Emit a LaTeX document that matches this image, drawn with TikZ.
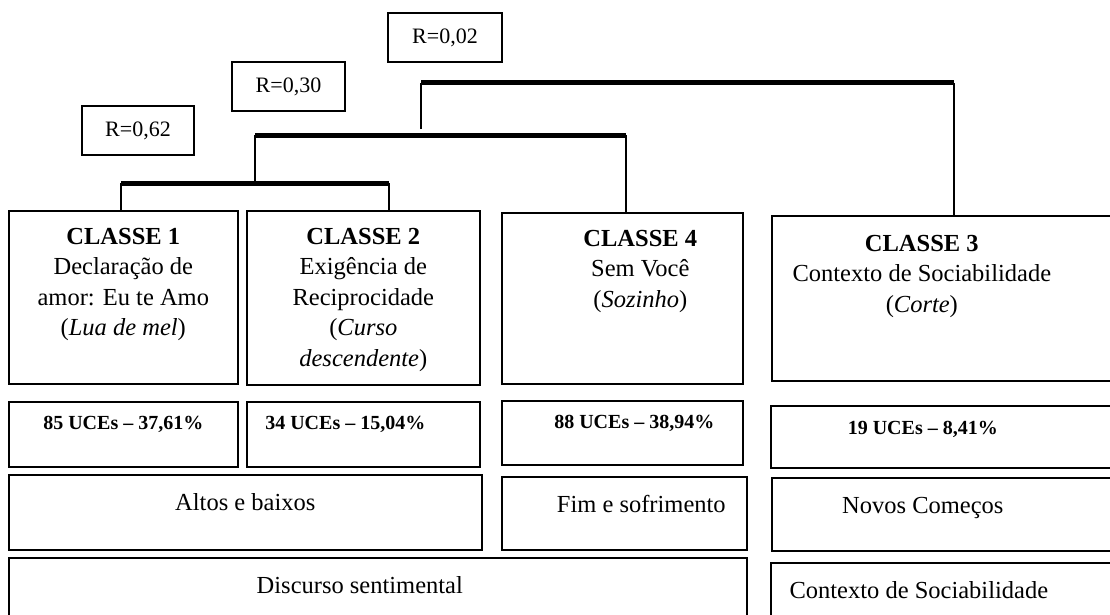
\documentclass[tikz,border=0pt]{standalone}
\usepackage{fontspec}
\setmainfont{Liberation Serif}
\usepackage{tikz}
\usetikzlibrary{positioning}

\tikzset{
    cell/.style={draw, line width=1.6pt, anchor=north west, inner sep=0pt},
    rbox/.style={draw, line width=1.4pt, inner sep=0pt, minimum height=49pt, font=\fontsize{22}{26}\selectfont},
    txt/.style={anchor=north, align=center, inner sep=0pt, font=\fontsize{24.5}{30.5}\selectfont},
    uce/.style={anchor=north, inner sep=0pt, font=\bfseries\fontsize{20}{24}\selectfont},
    bar/.style={line width=5pt},
    stem/.style={line width=1.6pt}
}

\begin{document}
\begin{tikzpicture}[x=1pt, y=-1pt]

    \useasboundingbox (0, 0) rectangle (1110, 615);

    \node[rbox, minimum width=114pt] (r3) at (445, 37.5) {R=0,02};
    \node[rbox, minimum width=113pt] (r2) at (288.5, 86.5) {R=0,30};
    \node[rbox, minimum width=112pt] (r1) at (138, 130.5) {R=0,62};

    \node[cell, minimum width=229pt, minimum height=173pt, label={[txt, yshift=-18pt]north:{\textbf{CLASSE 1}\\Declaração de\\amor: Eu te Amo\\(\textit{Lua de mel})}}] (c1) at (8, 210) {};
    \node[cell, minimum width=233pt, minimum height=174pt, label={[txt, yshift=-18pt]north:{\textbf{CLASSE 2}\\Exigência de\\Reciprocidade\\(\textit{Curso}\\\textit{descendente})}}] (c2) at (246, 210) {};
    \node[cell, minimum width=241pt, minimum height=171pt, label={[txt, xshift=18pt, yshift=-18pt]north:{\textbf{CLASSE 4}\\Sem Você\\(\textit{Sozinho})}}] (c4) at (501, 212) {};
    \node[cell, minimum width=360pt, minimum height=165pt, label={[txt, xshift=-30pt, yshift=-20pt]north:{\textbf{CLASSE 3}\\Contexto de Sociabilidade\\(\textit{Corte})}}] (c3) at (771, 215) {};

    \node[cell, minimum width=229pt, minimum height=65pt, label={[uce, yshift=-15pt]north:85 UCEs \textendash{} 37,61\%}] (u1) at (8, 401) {};
    \node[cell, minimum width=233pt, minimum height=65pt, label={[uce, xshift=-18pt, yshift=-15pt]north:34 UCEs \textendash{} 15,04\%}] (u2) at (246, 401) {};
    \node[cell, minimum width=241pt, minimum height=64pt, label={[uce, xshift=12pt, yshift=-15pt]north:88 UCEs \textendash{} 38,94\%}] (u4) at (501, 400) {};
    \node[cell, minimum width=360pt, minimum height=62pt, label={[uce, xshift=-28pt, yshift=-16pt]north:19 UCEs \textendash{} 8,41\%}] (u3) at (770, 405) {};

    \node[cell, minimum width=473pt, minimum height=75pt, label={[txt, yshift=-19pt]north:Altos e baixos}] (alt) at (8, 474) {};
    \node[cell, minimum width=245pt, minimum height=73pt, label={[txt, xshift=17pt, yshift=-19pt]north:Fim e sofrimento}] (fim) at (501, 476) {};
    \node[cell, minimum width=360pt, minimum height=73pt, label={[txt, xshift=-29pt, yshift=-20pt]north:Novos Começos}] (nov) at (771, 477) {};

    \node[cell, minimum width=738pt, minimum height=80pt, label={[txt, xshift=-18pt, yshift=-19pt]north:Discurso sentimental}] (dis) at (8, 557) {};
    \node[cell, minimum width=360pt, minimum height=80pt, label={[txt, xshift=-32pt, yshift=-19pt]north:Contexto de Sociabilidade}] (ctx) at (770, 562) {};

    \coordinate (j1l) at (121, 183);
    \coordinate (j1r) at (389, 183);
    \coordinate (j2l) at (255, 135);
    \coordinate (j2r) at (626, 135);
    \coordinate (j3l) at (421, 83);
    \coordinate (j3r) at (954, 83);
    \coordinate (j3s) at (421, 129);

    \draw [bar] (j1l) -- (j1r);
    \draw [bar] (j2l) -- (j2r);
    \draw [bar] (j3l) -- (j3r);

    \draw [stem] (c1.north -| j1l) -- (j1l);
    \draw [stem] (c2.north -| j1r) -- (j1r);
    \draw [stem] (j1l -| j2l) -- (j2l);
    \draw [stem] (c4.north -| j2r) -- (j2r);
    \draw [stem] (j3s) -- (j3l);
    \draw [stem] (c3.north -| j3r) -- (j3r);

\end{tikzpicture}
\end{document}
